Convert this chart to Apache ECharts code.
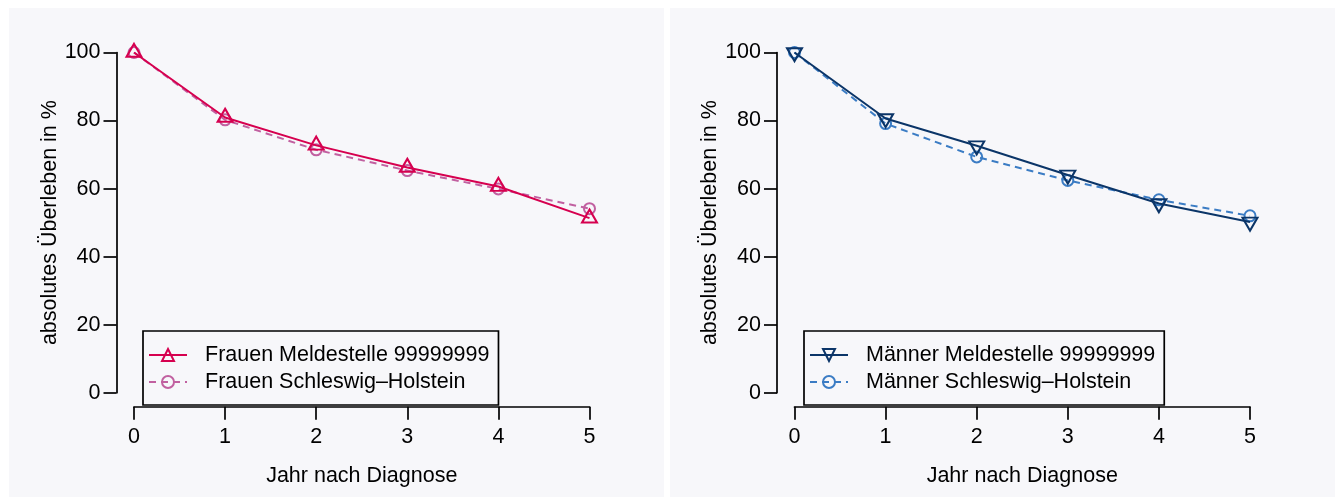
<!DOCTYPE html>
<html>
<head>
<meta charset="utf-8">
<script src="https://cdn.jsdelivr.net/npm/echarts@6/dist/echarts.min.js"></script>
<style>
html,body{margin:0;padding:0;background:#ffffff;}
#chart{width:1335px;height:497px;}
</style>
</head>
<body>
<div id="chart"></div>
<script>
// ---- data ----
const years = [0, 1, 2, 3, 4, 5];
const yTicks = [0, 20, 40, 60, 80, 100];
const frauenMeldestelle = [100, 80.9, 72.7, 66.2, 60.6, 51.3];
const frauenSH = [100, 80.2, 71.4, 65.3, 59.9, 54.1];
const maennerMeldestelle = [100, 80.6, 72.6, 64.0, 55.6, 50.2];
const maennerSH = [100, 79.1, 69.3, 62.4, 56.7, 52.0];
const namesLeft = ['Frauen Meldestelle 99999999', 'Frauen Schleswig\u2013Holstein'];
const namesRight = ['M\u00e4nner Meldestelle 99999999', 'M\u00e4nner Schleswig\u2013Holstein'];
const xTitle = 'Jahr nach Diagnose';
const yTitle = 'absolutes \u00dcberleben in %';

// ---- styling ----
const FONT = '"Liberation Sans", Arial, Helvetica, sans-serif';
const FS = 21.5;
const PANEL = '#f7f7fa';
const C_F1 = '#d6004f';
const C_F2 = '#c160a0';
const C_M1 = '#0b3568';
const C_M2 = '#3b7cc4';
const AXW = 1.7;

function pairs(vals) { return years.map((x, i) => [x, vals[i]]); }

function xAxisCfg(gi) {
  return {
    type: 'value', gridIndex: gi, min: 0, max: 5, interval: 1,
    offset: 14,
    name: xTitle, nameLocation: 'middle', nameGap: 58,
    nameTextStyle: { fontSize: FS, color: '#000', fontFamily: FONT },
    axisLine: { show: true, onZero: false, lineStyle: { color: '#000', width: AXW } },
    axisTick: { show: true, length: 13, lineStyle: { color: '#000', width: AXW } },
    axisLabel: { fontSize: FS, color: '#000', fontFamily: FONT, margin: 19 },
    splitLine: { show: false }
  };
}
function yAxisCfg(gi) {
  return {
    type: 'value', gridIndex: gi, min: yTicks[0], max: yTicks[yTicks.length - 1], interval: 20,
    offset: 17.5,
    name: yTitle, nameLocation: 'middle', nameGap: 55, nameRotate: 90,
    nameTextStyle: { fontSize: FS, color: '#000', fontFamily: FONT },
    axisLine: { show: true, onZero: false, lineStyle: { color: '#000', width: AXW } },
    axisTick: { show: true, length: 13, lineStyle: { color: '#000', width: AXW } },
    axisLabel: { fontSize: FS, color: '#000', fontFamily: FONT, margin: 16 },
    splitLine: { show: false }
  };
}
function lineSeries(name, vals, gi, color, dashed, symbol, rotate, offsetY, size, z) {
  return {
    type: 'line', name: name, xAxisIndex: gi, yAxisIndex: gi,
    data: pairs(vals),
    symbol: symbol, symbolSize: size, symbolRotate: rotate, symbolOffset: [0, offsetY],
    showAllSymbol: true,
    lineStyle: { color: color, width: 2, type: dashed ? [7, 5] : 'solid' },
    itemStyle: { color: 'rgba(0,0,0,0)', borderColor: color, borderWidth: 2 },
    emphasis: { disabled: true },
    z: z
  };
}
function legendCfg(names, left) {
  return {
    data: names, orient: 'vertical', left: left, top: 331,
    padding: [13, 9, 12, 5], itemGap: 5, itemWidth: 38, itemHeight: 15,
    borderColor: '#000', borderWidth: AXW, backgroundColor: 'rgba(0,0,0,0)',
    selectedMode: false,
    textStyle: { fontSize: FS, color: '#000', fontFamily: FONT, padding: [0, 0, 0, 13] }
  };
}

const chart = echarts.init(document.getElementById('chart'), null, { renderer: 'canvas' });
chart.setOption({
  animation: false,
  backgroundColor: '#ffffff',
  textStyle: { fontFamily: FONT },
  graphic: [
    { type: 'rect', z: -100, silent: true, shape: { x: 9, y: 8, width: 655, height: 489 }, style: { fill: PANEL } },
    { type: 'rect', z: -100, silent: true, shape: { x: 670, y: 8, width: 665, height: 489 }, style: { fill: PANEL } }
  ],
  grid: [
    { left: 134, top: 52.5, width: 455.5, height: 340.2, containLabel: false },
    { left: 794.5, top: 52.5, width: 455.5, height: 340.2, containLabel: false }
  ],
  xAxis: [xAxisCfg(0), xAxisCfg(1)],
  yAxis: [yAxisCfg(0), yAxisCfg(1)],
  legend: [legendCfg(namesLeft, 143), legendCfg(namesRight, 804)],
  series: [
    lineSeries(namesLeft[1], frauenSH, 0, C_F2, true, 'circle', 0, 0, 11, 2),
    lineSeries(namesLeft[0], frauenMeldestelle, 0, C_F1, false, 'triangle', 0, -2.2, [15, 13], 3),
    lineSeries(namesRight[1], maennerSH, 1, C_M2, true, 'circle', 0, 0, 11, 2),
    lineSeries(namesRight[0], maennerMeldestelle, 1, C_M1, false, 'triangle', 180, 2.2, [15, 13], 3)
  ]
});
</script>
</body>
</html>
